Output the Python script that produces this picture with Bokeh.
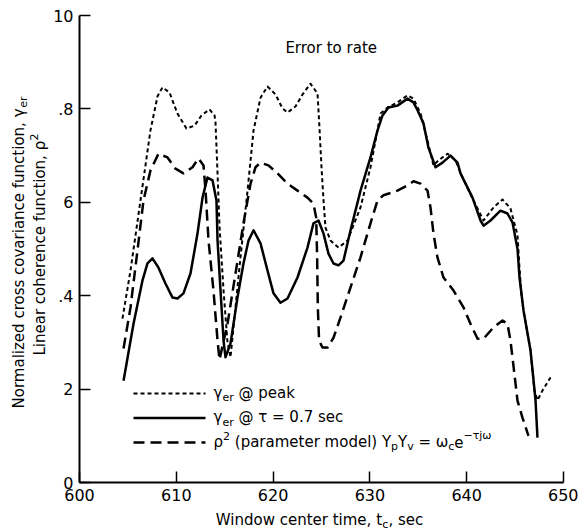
import math
from bokeh.plotting import figure
from bokeh.models import Label, Arrow, FixedTicker, Range1d
from bokeh.embed import file_html
from bokeh.resources import INLINE

# ---------------- data ----------------
peak_t = [604.44, 605.27, 606.30, 607.33, 608.06, 608.57, 609.30, 610.12, 611.05, 611.88,
          612.60, 613.43, 613.95, 614.05, 614.26, 614.46, 614.88, 615.29, 615.60, 616.63,
          617.36, 617.98, 618.70, 619.42, 620.25, 620.97, 621.49, 622.31, 623.04, 623.86,
          624.59, 624.79, 625.00, 625.21, 625.41, 625.93, 626.76, 627.69, 629.03, 630.06,
          631.10, 631.82, 632.85, 633.88, 634.50, 635.23, 635.95, 636.57, 637.09, 638.02,
          638.84, 639.57, 640.70, 641.74, 642.77, 643.70, 644.52, 645.25, 645.45, 645.66,
          645.87, 646.59, 647.00, 647.31, 647.83, 648.66]
peak_v = [0.351, 0.454, 0.604, 0.754, 0.827, 0.846, 0.835, 0.790, 0.758, 0.764,
          0.786, 0.799, 0.786, 0.771, 0.662, 0.550, 0.411, 0.300, 0.268, 0.482,
          0.625, 0.754, 0.824, 0.848, 0.831, 0.801, 0.792, 0.805, 0.831, 0.854,
          0.833, 0.760, 0.675, 0.604, 0.546, 0.518, 0.503, 0.518, 0.589, 0.675,
          0.790, 0.803, 0.814, 0.829, 0.822, 0.790, 0.732, 0.679, 0.690, 0.704,
          0.690, 0.653, 0.604, 0.561, 0.589, 0.606, 0.587, 0.530, 0.460, 0.400,
          0.368, 0.283, 0.197, 0.176, 0.197, 0.225]

tau_t = [604.55, 605.58, 606.51, 607.02, 607.54, 608.16, 608.88, 609.61, 610.12, 610.74,
         611.47, 612.19, 612.71, 613.22, 613.74, 614.15, 614.26, 614.57, 614.88, 615.08,
         615.60, 616.32, 616.94, 617.46, 617.98, 618.70, 619.42, 620.04, 620.76, 621.49,
         622.52, 623.55, 624.17, 624.69, 625.21, 625.72, 626.24, 626.76, 627.27, 628.00,
         629.03, 630.06, 630.79, 631.30, 631.92, 632.85, 633.88, 634.50, 634.92, 635.54,
         636.05, 636.78, 637.50, 638.33, 639.05, 639.36, 640.60, 641.43, 641.74, 642.46,
         643.49, 644.21, 644.73, 645.25, 645.45, 645.87, 646.59, 646.90, 647.11, 647.31]
tau_v = [0.218, 0.340, 0.433, 0.469, 0.480, 0.460, 0.426, 0.396, 0.394, 0.405,
         0.448, 0.533, 0.610, 0.653, 0.647, 0.604, 0.518, 0.411, 0.304, 0.268,
         0.298, 0.396, 0.469, 0.518, 0.540, 0.512, 0.454, 0.405, 0.385, 0.394,
         0.439, 0.503, 0.555, 0.561, 0.533, 0.490, 0.469, 0.465, 0.475, 0.540,
         0.625, 0.696, 0.754, 0.786, 0.803, 0.807, 0.822, 0.814, 0.797, 0.769,
         0.717, 0.675, 0.685, 0.700, 0.685, 0.662, 0.610, 0.561, 0.550, 0.561,
         0.582, 0.576, 0.557, 0.500, 0.440, 0.368, 0.283, 0.220, 0.176, 0.096]

coh_t = [604.55, 605.27, 605.99, 606.61, 607.33, 608.16, 609.09, 609.92, 610.74, 611.67,
         612.29, 612.81, 613.02, 613.33, 613.84, 614.26, 614.46, 615.29, 616.12, 616.94,
         617.67, 618.18, 618.70, 619.52, 620.45, 621.49, 622.52, 623.55, 624.17, 624.45,
         624.55, 624.62, 624.75, 625.10, 625.62, 626.24, 626.96, 628.00, 629.03, 630.06,
         630.79, 631.40, 632.85, 633.88, 634.50, 635.23, 635.95, 636.26, 636.57, 636.98,
         637.60, 638.64, 639.67, 640.39, 641.12, 641.74, 642.77, 643.70, 644.21, 644.52,
         644.83, 645.25, 645.76, 646.38]
coh_v = [0.287, 0.375, 0.497, 0.604, 0.668, 0.704, 0.696, 0.672, 0.662, 0.675,
         0.694, 0.679, 0.625, 0.518, 0.411, 0.304, 0.263, 0.340, 0.448, 0.555,
         0.640, 0.675, 0.685, 0.679, 0.662, 0.640, 0.625, 0.610, 0.597, 0.567,
         0.482, 0.375, 0.304, 0.289, 0.289, 0.310, 0.353, 0.418, 0.482, 0.555,
         0.604, 0.615, 0.625, 0.636, 0.645, 0.640, 0.625, 0.589, 0.533, 0.482,
         0.439, 0.411, 0.375, 0.340, 0.308, 0.308, 0.332, 0.347, 0.340, 0.304,
         0.250, 0.175, 0.139, 0.100]

x_ticks = [600, 610, 620, 630, 640, 650]
y_ticks = [0, 0.2, 0.4, 0.6, 0.8, 1.0]
y_tick_labels = ["0", "2", ".4", "6", ".8", "10"]

title_text = "Error to rate"

# ---------------- layout ----------------
W, H = 578, 530
# pixel box of the data area inside the canvas
PL, PR, PT, PB = 79, 563, 15, 482
X0, X1 = x_ticks[0], x_ticks[-1]
Y0, Y1 = y_ticks[0], y_ticks[-1]
sx = (X1 - X0) / (PR - PL)
sy = (Y1 - Y0) / (PB - PT)
FONT = "DejaVu Sans"
FS, SS = 15, 11

p = figure(width=W, height=H, title=None,
           x_range=Range1d(X0 - PL * sx, X1 + (W - PR) * sx),
           y_range=Range1d(Y0 - (H - PB) * sy, Y1 + PT * sy),
           output_backend="svg", toolbar_location=None,
           min_border=0, min_border_left=0, min_border_right=0,
           min_border_top=0, min_border_bottom=0)
p.outline_line_color = None
p.grid.visible = False
p.background_fill_color = "white"
p.border_fill_color = "white"

for ax in (p.xaxis[0], p.yaxis[0]):
    ax.axis_line_width = 2
    ax.axis_line_color = "black"
    ax.major_tick_in = 11
    ax.major_tick_out = 0
    ax.major_tick_line_width = 1.5
    ax.major_tick_line_color = "black"
    ax.minor_tick_line_color = None
    ax.major_label_text_font = FONT
    ax.major_label_text_font_size = "16px"
    ax.major_label_text_color = "black"
    ax.major_label_standoff = 6
p.xaxis.fixed_location = Y0
p.xaxis.bounds = (X0, X1)
p.yaxis.fixed_location = X0
p.yaxis.bounds = (Y0, Y1)
p.xaxis.ticker = FixedTicker(ticks=x_ticks)
p.yaxis.ticker = FixedTicker(ticks=y_ticks)
p.yaxis.major_label_overrides = dict(zip(y_ticks, y_tick_labels))

# ---------------- curves ----------------
p.line(peak_t, peak_v, line_color="black", line_width=2, line_dash="4 3", line_join="round")
p.line(tau_t, tau_v, line_color="black", line_width=2.5, line_join="round")
p.line(coh_t, coh_v, line_color="black", line_width=2.5, line_dash="11 6", line_join="round")

# ---------------- text helpers ----------------
ADV = {' ': .318, '(': .390, ')': .390, ',': .318, '.': .318, '=': .838, '@': 1.0,
       '−': .838, '-': .361,
       'a': .613, 'b': .635, 'c': .550, 'd': .635, 'e': .615, 'f': .352, 'g': .635,
       'h': .634, 'i': .278, 'j': .278, 'k': .579, 'l': .278, 'm': .974, 'n': .634,
       'o': .612, 'p': .635, 'q': .635, 'r': .411, 's': .521, 't': .392, 'u': .634,
       'v': .592, 'w': .818, 'x': .592, 'y': .592, 'z': .525,
       'E': .632, 'L': .557, 'N': .748, 'W': .989, 'Y': .611,
       'γ': .592, 'ρ': .635, 'τ': .57, 'ω': .82}
for d in "0123456789":
    ADV[d] = .636


def tw(s, size):
    return sum(ADV.get(ch, .6) for ch in s) * size


def place(pieces, cx, cy, align="left", rotated=False):
    """Place a run of text pieces (normal / sub / sup) starting or centred at canvas (cx, cy)."""
    sizes = [FS if k == "n" else SS for _, k in pieces]
    widths = [tw(t, s) for (t, _), s in zip(pieces, sizes)]
    total = sum(widths)
    pos = 0.0 if align == "left" else -total / 2
    for (txt, kind), s, w in zip(pieces, sizes, widths):
        lead = len(txt) - len(txt.lstrip(" "))
        shown = txt.strip(" ")
        start = pos + lead * ADV[" "] * s
        off = {"n": 0, "sub": 5, "sup": -6}[kind]
        if rotated:
            x, y = cx + off, cy - start
        else:
            x, y = cx + start, cy + off
        p.add_layout(Label(x=x, y=H - y, x_units="screen", y_units="screen",
                           text=shown, text_font=FONT, text_font_size=f"{s}px",
                           text_color="black", text_align="left", text_baseline="middle",
                           angle=(math.pi / 2 if rotated else 0.0)))
        pos += w


# title
place([(title_text, "n")], 331, 47, align="center")
# axis labels
place([("Window center time, t", "n"), ("c", "sub"), (", sec", "n")], 319, 519, align="center")
place([("Normalized cross covariance function, γ", "n"), ("er", "sub")], 18, 252,
      align="center", rotated=True)
place([("Linear coherence function, ρ", "n"), ("2", "sup")], 39, 244,
      align="center", rotated=True)

# legend
legend_rows = [
    ("4 3", 2, [("γ", "n"), ("er", "sub"), (" @ peak", "n")]),
    ("solid", 2.5, [("γ", "n"), ("er", "sub"), (" @ τ = 0.7 sec", "n")]),
    ("11 6", 2.5, [("ρ", "n"), ("2", "sup"), (" (parameter model) Y", "n"), ("p", "sub"),
                   ("Y", "n"), ("v", "sub"), (" = ω", "n"), ("c", "sub"), ("e", "n"),
                   ("−τjω", "sup")]),
]
for i, (dash, lw, pieces) in enumerate(legend_rows):
    cy = 393 + 24.5 * i
    p.add_layout(Arrow(end=None, x_start=133, y_start=H - cy, x_end=205,
                       y_end=H - cy, start_units="screen", end_units="screen",
                       line_color="black", line_width=lw, line_dash=dash))
    place(pieces, 213, cy - 1)

open("out.html", "w").write(file_html(p, INLINE))
